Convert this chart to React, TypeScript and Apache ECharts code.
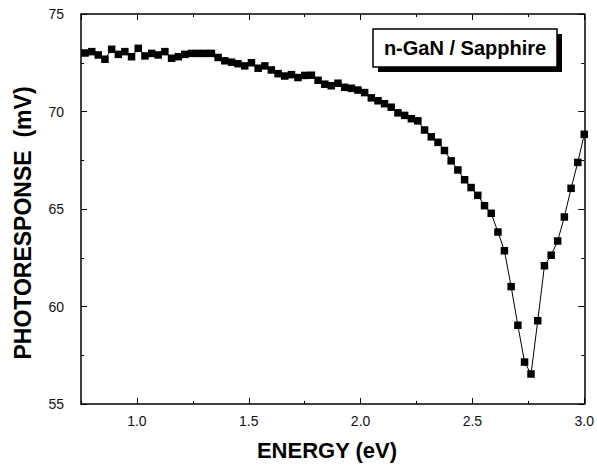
import React, { useEffect, useRef } from "react";
import * as echarts from "echarts";

const energy = [
  0.768, 0.798, 0.827, 0.857, 0.887, 0.917, 0.946, 0.976, 1.006, 1.036,
  1.066, 1.095, 1.125, 1.155, 1.185, 1.214, 1.244, 1.274, 1.304, 1.333,
  1.363, 1.393, 1.423, 1.452, 1.482, 1.512, 1.542, 1.572, 1.601, 1.631,
  1.661, 1.691, 1.720, 1.750, 1.780, 1.810, 1.840, 1.869, 1.899, 1.929,
  1.959, 1.988, 2.018, 2.048, 2.078, 2.107, 2.137, 2.167, 2.197, 2.227,
  2.256, 2.286, 2.316, 2.346, 2.375, 2.405, 2.435, 2.465, 2.494, 2.524,
  2.554, 2.584, 2.614, 2.643, 2.673, 2.703, 2.733, 2.762, 2.792, 2.822,
  2.852, 2.881, 2.911, 2.941, 2.971, 3.0,
];

const photoresponse = [
  73.0, 73.07, 72.9, 72.68, 73.19, 72.93, 73.07, 72.81, 73.24, 72.85,
  72.98, 72.9, 73.07, 72.73, 72.81, 72.93, 72.98, 72.98, 72.98, 72.98,
  72.77, 72.6, 72.53, 72.45, 72.34, 72.5, 72.22, 72.34, 72.13, 71.94,
  71.82, 71.89, 71.74, 71.85, 71.86, 71.6, 71.4, 71.32, 71.45, 71.24,
  71.19, 71.1, 70.97, 70.7, 70.55, 70.4, 70.22, 69.93, 69.8, 69.63,
  69.52, 69.05, 68.7, 68.42, 68.0, 67.47, 67.0, 66.5, 66.1, 65.7,
  65.17, 64.78, 63.82, 62.86, 61.02, 59.04, 57.15, 56.54, 59.27, 62.09,
  62.63, 63.36, 64.59, 66.06, 67.39, 68.83,
];

const xMajorTicks = [1.0, 1.5, 2.0, 2.5, 3.0];
const yTicks = [55, 60, 65, 70, 75];
const legendLabel = "n-GaN / Sapphire";
const xTitle = "ENERGY (eV)";
const yTitle = "PHOTORESPONSE  (mV)";

const FONT = "'Liberation Sans', Arial, Helvetica, sans-serif";

export default function App() {
  const ref = useRef<HTMLDivElement>(null);

  useEffect(() => {
    if (!ref.current) return;
    const chart = echarts.init(ref.current, undefined, { renderer: "svg" });

    const grid = { left: 81, top: 14, width: 505, height: 390 };
    const axisLine = { show: true, lineStyle: { color: "#000", width: 1.5 } };

    const majorX = (position: "bottom" | "top", labels: boolean) => ({
      type: "value",
      position,
      min: 0.75,
      max: 3.0,
      splitNumber: 5,
      axisLine,
      axisTick: { show: true, inside: true, length: 6, lineStyle: { color: "#000", width: 1 } },
      axisLabel: {
        show: labels,
        showMinLabel: false,
        margin: 10,
        color: "#111",
        fontSize: 14,
        fontFamily: FONT,
        formatter: (v: number) => (xMajorTicks.includes(Math.round(v * 100) / 100) ? v.toFixed(1) : ""),
      },
      splitLine: { show: false },
    });
    const minorX = (position: "bottom" | "top") => ({
      type: "value",
      position,
      min: 0.75,
      max: 3.0,
      interval: 0.5,
      axisLine: { show: false },
      axisTick: { show: true, inside: true, length: 3, lineStyle: { color: "#000", width: 1 } },
      axisLabel: { show: false },
      splitLine: { show: false },
    });
    const yAxis = (position: "left" | "right", labels: boolean) => ({
      type: "value",
      position,
      min: yTicks[0],
      max: yTicks[yTicks.length - 1],
      interval: 5,
      axisLine,
      axisTick: { show: true, inside: true, length: 6, lineStyle: { color: "#000", width: 1 } },
      minorTick: { show: true, splitNumber: 2, length: 3, lineStyle: { color: "#000", width: 1 } },
      axisLabel: {
        show: labels,
        margin: 17,
        color: "#111",
        fontSize: 14,
        fontFamily: FONT,
      },
      splitLine: { show: false },
      minorSplitLine: { show: false },
    });

    chart.setOption({
      animation: false,
      backgroundColor: "#fff",
      grid,
      xAxis: [majorX("bottom", true), minorX("bottom"), majorX("top", false), minorX("top")],
      yAxis: [yAxis("left", true), yAxis("right", false)],
      series: [
        {
          type: "line",
          xAxisIndex: 0,
          yAxisIndex: 0,
          data: energy.map((e, i) => [e, photoresponse[i]]),
          symbol: "rect",
          symbolSize: 7.5,
          showAllSymbol: true,
          itemStyle: { color: "#000" },
          lineStyle: { color: "#000", width: 1 },
          clip: false,
        },
      ],
      graphic: [
        { type: "rect", shape: { x: 378, y: 34, width: 184, height: 38 }, style: { fill: "#000" }, z: 10 },
        { type: "rect", shape: { x: 373, y: 29, width: 184, height: 38 }, style: { fill: "#fff", stroke: "#000", lineWidth: 1.5 }, z: 11 },
        {
          type: "text",
          x: 465,
          y: 48,
          z: 12,
          style: {
            text: legendLabel,
            fill: "#000",
            font: `bold 20px ${FONT}`,
            textAlign: "center",
            textVerticalAlign: "middle",
          },
        },
        {
          type: "text",
          x: 327,
          y: 450,
          style: {
            text: xTitle,
            fill: "#000",
            font: `bold 22px ${FONT}`,
            textAlign: "center",
            textVerticalAlign: "middle",
          },
        },
        {
          type: "text",
          x: 23,
          y: 223,
          rotation: Math.PI / 2,
          style: {
            text: yTitle,
            fill: "#000",
            font: `bold 23px ${FONT}`,
            textAlign: "center",
            textVerticalAlign: "middle",
          },
        },
      ],
    });

    return () => chart.dispose();
  }, []);

  return (
    <div
      ref={ref}
      style={{ position: "absolute", left: 0, top: 0, width: 597, height: 470 }}
    />
  );
}
